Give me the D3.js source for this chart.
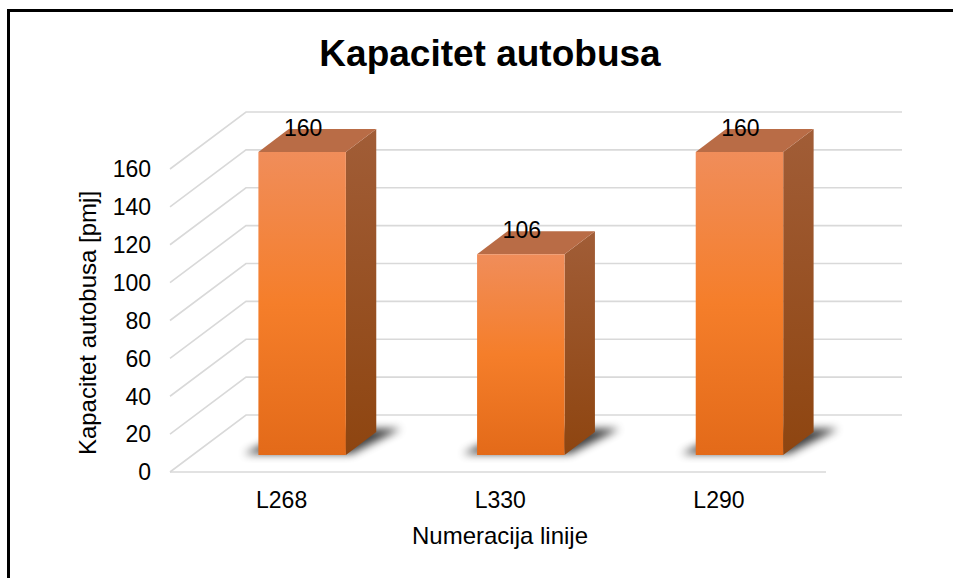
<!DOCTYPE html>
<html>
<head>
<meta charset="utf-8">
<script src="https://cdn.jsdelivr.net/npm/d3@7"></script>
<style>
  body { margin: 0; background: #fff; }
  text { font-family: "Liberation Sans", Arial, sans-serif; fill: #000; }
</style>
</head>
<body>
<div id="main"></div>
<script>
// chart data
const categories = ["L268", "L330", "L290"];
const values = [160, 106, 160];
const yTicks = [0, 20, 40, 60, 80, 100, 120, 140, 160];

const w = 956, h = 578;
// 3D depth offset of the back wall relative to the front plane
const depthX = 76, depthY = -57;
const barT0 = 0.3, barT1 = 0.7;

const svg = d3.select("#main").append("svg").attr("width", w).attr("height", h);

const defs = svg.append("defs");
const gFront = defs.append("linearGradient").attr("id", "gFront").attr("x1", 0).attr("y1", 0).attr("x2", 0).attr("y2", 1);
gFront.append("stop").attr("offset", "0%").attr("stop-color", "#f08d5a");
gFront.append("stop").attr("offset", "50%").attr("stop-color", "#f57e2a");
gFront.append("stop").attr("offset", "100%").attr("stop-color", "#e36a19");
const gSide = defs.append("linearGradient").attr("id", "gSide").attr("x1", 0).attr("y1", 0).attr("x2", 0).attr("y2", 1);
gSide.append("stop").attr("offset", "0%").attr("stop-color", "#a15d37");
gSide.append("stop").attr("offset", "100%").attr("stop-color", "#8e4510");
defs.append("filter").attr("id", "blur").attr("x", "-50%").attr("y", "-50%").attr("width", "200%").attr("height", "200%")
  .append("feGaussianBlur").attr("stdDeviation", 4);

// scales on the front plane
const x = d3.scaleBand().domain(categories).range([170, 826]).paddingInner(0.6).paddingOuter(0.3);
const y = d3.scaleLinear().domain([0, 160]).range([472, 169]);

function proj(px, py, t) { return [px + depthX * t, py + depthY * t]; }
function pts(arr) { return arr.map(p => p.join(",")).join(" "); }

// border (only top and left visible)
svg.append("path").attr("d", "M8.5,578 L8.5,10.5 L953,10.5")
  .attr("fill", "none").attr("stroke", "#000").attr("stroke-width", 3);

// title
svg.append("text").attr("x", 490).attr("y", 66).attr("text-anchor", "middle")
  .style("font-size", "37px").style("font-weight", "bold").text("Kapacitet autobusa");

// gridlines: side wall diagonals and back wall lines
const grid = svg.append("g").attr("stroke", "#d9d9d9").attr("stroke-width", 1.6).attr("fill", "none");
const x0 = x.range()[0], x1 = x.range()[1];
yTicks.forEach(v => {
  const a = proj(x0, y(v), 0), b = proj(x0, y(v), 1), c = proj(x1, y(v), 1);
  grid.append("polyline").attr("points", pts([a, b, c]));
});
grid.append("line").attr("x1", x0).attr("x2", x1).attr("y1", y(0)).attr("y2", y(0));

// bars
const bars = svg.selectAll("g.bar").data(categories.map((c, i) => ({ c: c, v: values[i] })))
  .enter().append("g").attr("class", "bar");

// soft floor shadow
bars.append("polygon")
  .attr("points", d => {
    const bx = x(d.c), bw = x.bandwidth();
    return pts([proj(bx - 16, y(0), barT0 + 0.02), proj(bx + bw + 4, y(0), barT0 + 0.02),
                proj(bx + bw + 20, y(0), barT1 + 0.06), proj(bx + 2, y(0), barT1 + 0.06)]);
  })
  .attr("fill", "#000").attr("opacity", 0.75).attr("filter", "url(#blur)");

bars.append("polygon")
  .attr("points", d => {
    const bx = x(d.c), bw = x.bandwidth();
    return pts([proj(bx + bw, y(d.v), barT0), proj(bx + bw, y(d.v), barT1),
                proj(bx + bw, y(0), barT1), proj(bx + bw, y(0), barT0)]);
  })
  .attr("fill", "url(#gSide)");

bars.append("polygon")
  .attr("points", d => {
    const bx = x(d.c), bw = x.bandwidth();
    return pts([proj(bx, y(d.v), barT0), proj(bx + bw, y(d.v), barT0),
                proj(bx + bw, y(d.v), barT1), proj(bx, y(d.v), barT1)]);
  })
  .attr("fill", "#b96c46");

bars.append("polygon")
  .attr("points", d => {
    const bx = x(d.c), bw = x.bandwidth();
    return pts([proj(bx, y(d.v), barT0), proj(bx + bw, y(d.v), barT0),
                proj(bx + bw, y(0), barT0), proj(bx, y(0), barT0)]);
  })
  .attr("fill", "url(#gFront)");

// data labels
bars.append("text")
  .attr("x", d => proj(x(d.c) + x.bandwidth() / 2, y(d.v), barT0)[0] + 1)
  .attr("y", d => proj(x(d.c), y(d.v), barT0)[1] - 16)
  .attr("text-anchor", "middle").style("font-size", "23px")
  .text(d => d.v);

// axes (labels only)
const yAxis = d3.axisLeft(y).tickValues(yTicks).tickSize(0).tickPadding(19);
const yG = svg.append("g").attr("transform", "translate(" + x0 + ",0)").call(yAxis);
yG.select(".domain").remove();
yG.selectAll("text").style("font-size", "23px").attr("dy", "0.34em")
  .style("font-family", "'Liberation Sans', Arial, sans-serif").attr("fill", "#000");

const xAxis = d3.axisBottom(x).tickSize(0).tickPadding(20);
const xG = svg.append("g").attr("transform", "translate(" + (depthX * 0.03) + "," + y(0) + ")").call(xAxis);
xG.select(".domain").remove();
xG.selectAll("text").style("font-size", "23px")
  .style("font-family", "'Liberation Sans', Arial, sans-serif").attr("fill", "#000");

// axis titles
svg.append("text").attr("x", 500).attr("y", 544).attr("text-anchor", "middle")
  .style("font-size", "24px").text("Numeracija linije");
svg.append("text").attr("transform", "translate(96,323) rotate(-90)").attr("text-anchor", "middle")
  .style("font-size", "24px").text("Kapacitet autobusa [pmj]");
</script>
</body>
</html>
